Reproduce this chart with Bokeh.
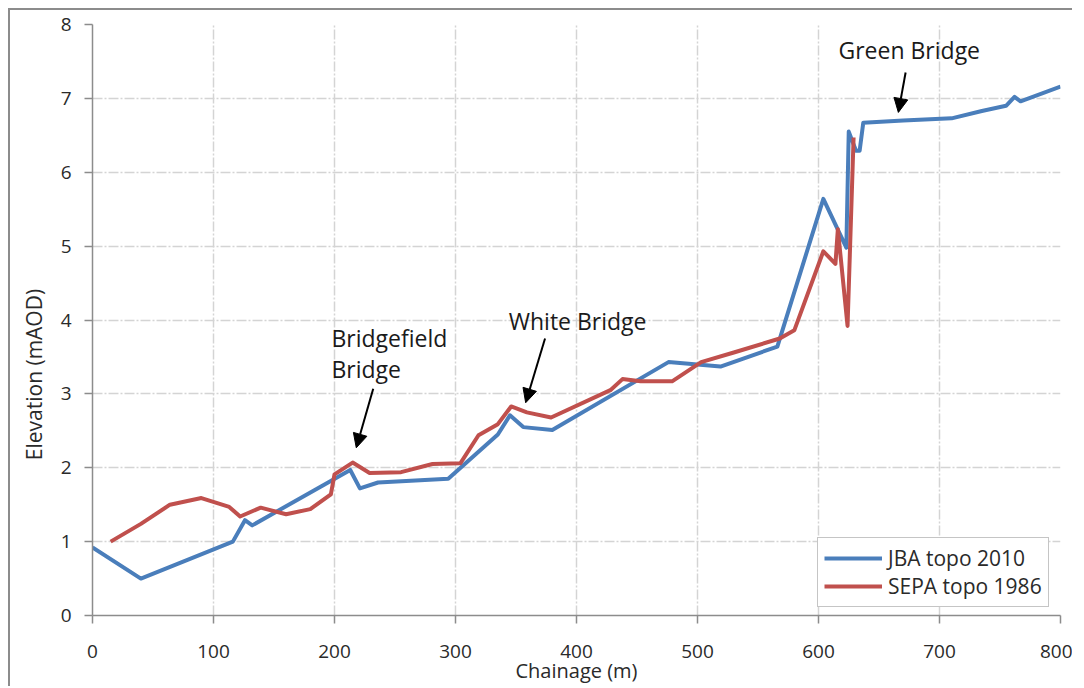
from bokeh.plotting import figure
from bokeh.models import ColumnDataSource, Legend, LegendItem, FixedTicker, Arrow, NormalHead, Label
from bokeh.embed import file_html
from bokeh.resources import INLINE

# JBA topo 2010
jba_chainage = [0, 40, 116, 126, 132, 213, 221, 236, 294, 335, 345, 356, 380, 476, 519, 566, 604, 623, 625, 631, 634, 637, 670, 710, 735, 755, 762, 767, 800]
jba_elev = [0.92, 0.50, 1.00, 1.29, 1.22, 1.97, 1.72, 1.80, 1.85, 2.45, 2.71, 2.55, 2.51, 3.43, 3.37, 3.64, 5.64, 4.98, 6.55, 6.29, 6.29, 6.67, 6.70, 6.73, 6.83, 6.90, 7.02, 6.96, 7.16]

# SEPA topo 1986
sepa_chainage = [15, 40, 64, 90, 113, 122, 139, 160, 180, 197, 200, 215, 229, 255, 281, 304, 319, 335, 346, 359, 379, 428, 438, 453, 479, 503, 530, 568, 580, 604, 614, 616, 624, 629]
sepa_elev = [1.00, 1.24, 1.50, 1.59, 1.47, 1.34, 1.46, 1.37, 1.44, 1.64, 1.91, 2.07, 1.93, 1.94, 2.05, 2.06, 2.44, 2.59, 2.83, 2.75, 2.68, 3.05, 3.20, 3.17, 3.17, 3.43, 3.56, 3.75, 3.86, 4.93, 4.76, 5.23, 3.92, 6.47]

x_ticks = [0, 100, 200, 300, 400, 500, 600, 700, 800]
y_ticks = [0, 1, 2, 3, 4, 5, 6, 7, 8]

FONT = "Open Sans"
BLUE = "#4a7ebb"
RED = "#c0504d"
GRAY = "#8c8c8c"
TXT = "#2a2a2a"

p = figure(width=1064, height=678, x_range=(0, 800), y_range=(0, 8),
           output_backend="svg", toolbar_location=None,
           min_border_left=82, min_border_right=14, min_border_top=14, min_border_bottom=73)
p.outline_line_color = None
p.background_fill_color = "white"
p.border_fill_color = "white"
p.styles = {"margin-left": "8px", "margin-top": "8px",
            "border-left": "2px solid #8c8c8c", "border-top": "2px solid #8c8c8c"}

for ax in (p.xaxis[0], p.yaxis[0]):
    ax.axis_line_color = GRAY
    ax.axis_line_width = 1.5
    ax.major_tick_line_color = GRAY
    ax.major_tick_line_width = 1.5
    ax.major_tick_out = 8
    ax.major_tick_in = 0
    ax.minor_tick_line_color = None
    ax.major_label_text_font = FONT
    ax.major_label_text_font_size = "19px"
    ax.major_label_text_color = TXT
    ax.axis_label_text_font = FONT
    ax.axis_label_text_font_size = "20px"
    ax.axis_label_text_font_style = "normal"
    ax.axis_label_text_color = TXT

p.xaxis.ticker = FixedTicker(ticks=x_ticks)
p.yaxis.ticker = FixedTicker(ticks=y_ticks)
p.xaxis.axis_label = "Chainage (m)"
# trailing no-break spaces push the rotated title below the frame centre, as in the reference
p.yaxis.axis_label = "Elevation (mAOD)" + "\u00a0" * 20
p.yaxis.axis_label_text_font_size = "21px"
p.yaxis.major_label_standoff = 13
p.yaxis.axis_label_standoff = 10
p.xaxis.major_label_standoff = 21
p.xaxis.axis_label_standoff = -4

for g in (p.xgrid[0], p.ygrid[0]):
    g.grid_line_color = "#d4d4d4"
    g.grid_line_width = 1.5
    g.grid_line_dash = "10 2 2 2"

src_j = ColumnDataSource(dict(x=jba_chainage, y=jba_elev))
src_s = ColumnDataSource(dict(x=sepa_chainage, y=sepa_elev))
lj = p.line("x", "y", source=src_j, line_color=BLUE, line_width=4, line_join="round")
ls = p.line("x", "y", source=src_s, line_color=RED, line_width=4, line_join="round")

legend = Legend(items=[LegendItem(label="JBA topo 2010", renderers=[lj]),
                       LegendItem(label="SEPA topo 1986", renderers=[ls])],
                location=(725, 8), margin=0, padding=6, spacing=0,
                glyph_width=58, glyph_height=22, label_height=22, label_standoff=6,
                label_text_font=FONT, label_text_font_size="21px", label_text_color=TXT,
                border_line_color=GRAY, border_line_width=1.5, background_fill_alpha=1)
p.add_layout(legend)

# Annotations
def note(x, y, text):
    p.add_layout(Label(x=x, y=y, text=text, text_font=FONT, text_font_size="23px",
                       text_color="#1a1a1a", text_baseline="middle", text_align="left"))

def arrow(x0, y0, x1, y1):
    p.add_layout(Arrow(x_start=x0, y_start=y0, x_end=x1, y_end=y1, line_width=2, line_color="black",
                       end=NormalHead(size=14, fill_color="black", line_color="black")))

note(616.5, 7.65, "Green Bridge")
arrow(672, 7.35, 666, 6.81)
note(344, 3.99, "White Bridge")
arrow(374, 3.75, 358, 2.88)
note(197.5, 3.75, "Bridgefield")
note(197.5, 3.33, "Bridge")
arrow(232, 3.07, 218, 2.27)

open("out.html", "w").write(file_html(p, INLINE))
